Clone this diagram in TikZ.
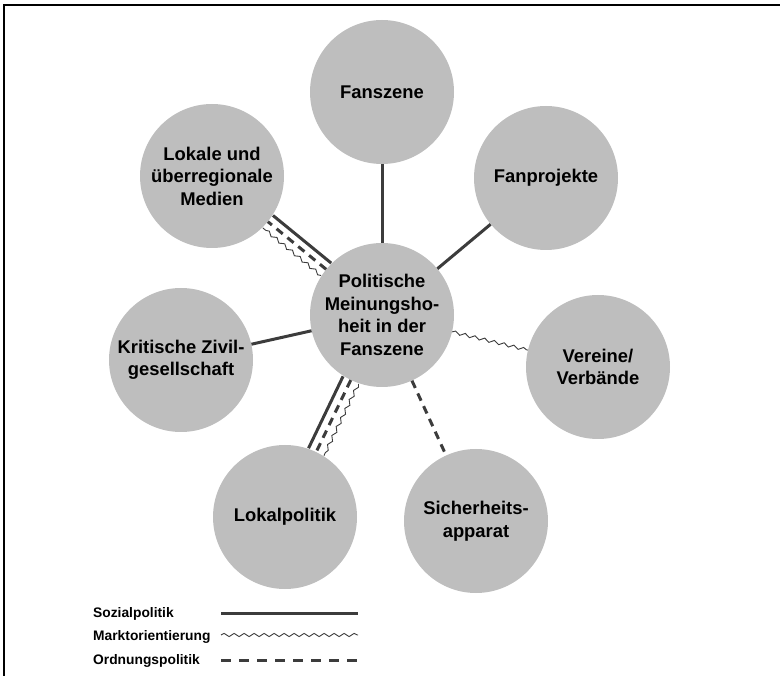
\documentclass[tikz,border=0pt]{standalone}
\usepackage{fontspec}
\setmainfont{Liberation Sans}
\usetikzlibrary{decorations.pathmorphing}
\definecolor{circfill}{RGB}{190,190,190}
\definecolor{linegray}{RGB}{60,60,60}
\begin{document}
\begin{tikzpicture}[x=1pt,y=-1pt,
  bubble/.style={circle, fill=circfill, minimum size=144pt, inner sep=0pt, align=center,
    font=\bfseries\fontsize{18.4}{22.5}\selectfont},
  sozial/.style={draw=linegray, line width=3pt},
  ordnung/.style={draw=linegray, line width=3pt, dash pattern=on 8pt off 6pt},
  legordnung/.style={draw=linegray, line width=3pt, dash pattern=on 10pt off 8pt},
  markt/.style={draw=linegray, line width=0.9pt, decorate,
    decoration={snake, amplitude=1.6pt, segment length=10pt}},
  legtext/.style={anchor=base west, font=\bfseries\fontsize{13.8}{16}\selectfont, inner sep=0pt}
]
\useasboundingbox (0,0) rectangle (780,676);
\draw[line width=1.5pt] (4,676) -- (4,5) -- (780,5);

% circles
\node[bubble] (c)  at (382,315) {Politische\\Meinungsho-\\heit in der\\Fanszene};
\node[bubble] (fs) at (382,92)  {Fanszene};
\node[bubble] (fp) at (546,178) {Fanprojekte};
\node[bubble] (vv) at (598,367) {Vereine/\\Verbände};
\node[bubble] (sa) at (476,521) {Sicherheits-\\apparat};
\node[bubble] (lp) at (285,517) {Lokalpolitik};
\node[bubble] (kz) at (181,360) {Kritische Zivil-\\gesellschaft};
\node[bubble] (md) at (212,176) {Lokale und\\überregionale\\Medien};

% connectors
\draw[sozial] (fs) -- (c);
\draw[sozial] (fp) -- (c);
\draw[markt] (c) -- (vv);
\draw[ordnung] (c) -- (sa);
\draw[sozial] (c) -- (kz);

\draw[sozial, transform canvas={shift={(5.1,-6.2)}}] (c) -- (md);
\draw[ordnung] (c) -- (md);
\draw[markt, transform canvas={shift={(-5.1,6.2)}}] (c) -- (md);

\draw[sozial, transform canvas={shift={(-7.7,-3.7)}}] (c) -- (lp);
\draw[ordnung] (c) -- (lp);
\draw[markt, transform canvas={shift={(7.7,3.7)}}] (c) -- (lp);

% legend
\node[legtext] (l1) at (93,617) {Sozialpolitik};
\node[legtext] (l2) at (93,640) {Marktorientierung};
\node[legtext] (l3) at (93,664) {Ordnungspolitik};
\coordinate (s1a) at (221,613); \coordinate (s1b) at (358,613);
\coordinate (s2a) at (221,635); \coordinate (s2b) at (358,635);
\coordinate (s3a) at (221,660); \coordinate (s3b) at (358,660);
\draw[sozial] (s1a) -- (s1b);
\draw[markt] (s2a) -- (s2b);
\draw[legordnung] (s3a) -- (s3b);
\end{tikzpicture}
\end{document}
